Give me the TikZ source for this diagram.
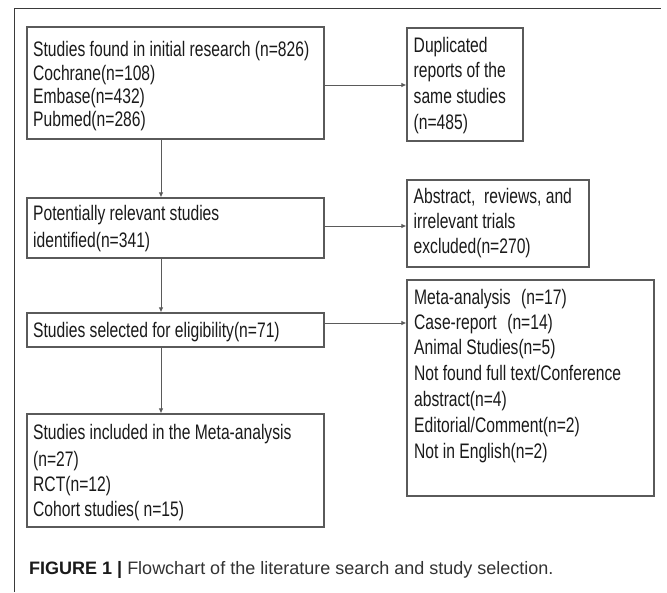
\documentclass[tikz,border=0pt]{standalone}
\usepackage{fontspec}
\newfontfamily\boxfont{Liberation Sans}[FakeStretch=0.745]
\newfontfamily\capfont{Liberation Sans}
\usetikzlibrary{arrows.meta}
\definecolor{boxline}{HTML}{5A5A5A}
\definecolor{txt}{HTML}{1A1A1A}
\definecolor{frameline}{HTML}{3A3A3A}
\definecolor{capgray}{HTML}{333333}
\begin{document}
\begin{tikzpicture}[x=1pt,y=-1pt,
  flowbox/.style={draw=boxline, line width=1.1pt, inner sep=0pt},
  ln/.style={anchor=base west, inner sep=0pt, text=txt, font=\boxfont\fontsize{21}{25}\selectfont},
  flowarrow/.style={draw=boxline, line width=1pt, -{Latex[length=5pt,width=4.5pt]}}
]
\useasboundingbox (0,0) rectangle (667,592);
\fill[white] (0,0) rectangle (667,592);
% frame
\draw[frameline, line width=1pt] (14,592) -- (14,8.3) -- (661,8.3);
% boxes
\node[flowbox, minimum width=297pt, minimum height=112pt] (b1) at (175.5,83) {};
\node[flowbox, minimum width=116pt, minimum height=113pt] (dup) at (465,84.5) {};
\node[flowbox, minimum width=297pt, minimum height=60pt] (b2) at (175.5,228) {};
\node[flowbox, minimum width=182pt, minimum height=87pt] (abs) at (498,223.5) {};
\node[flowbox, minimum width=297pt, minimum height=34pt] (b3) at (175.5,330) {};
\node[flowbox, minimum width=247pt, minimum height=216pt] (excl) at (530.5,388) {};
\node[flowbox, minimum width=297pt, minimum height=113pt] (b4) at (175.5,470.5) {};
% texts
\node[ln] (t1a) at (33,56) {Studies found in initial research (n=826)};
\node[ln] (t1b) at (33,80) {Cochrane(n=108)};
\node[ln] (t1c) at (33,103) {Embase(n=432)};
\node[ln] (t1d) at (33,126) {Pubmed(n=286)};
\node[ln] (tda) at (413.5,52) {Duplicated};
\node[ln] (tdb) at (413.5,77) {reports of the};
\node[ln] (tdc) at (413.5,103) {same studies};
\node[ln] (tdd) at (413.5,129) {(n=485)};
\node[ln] (t2a) at (33,220) {Potentially relevant studies};
\node[ln] (t2b) at (33,247) {identified(n=341)};
\node[ln] (taa) at (413.5,203) {Abstract,\ \ reviews, and};
\node[ln] (tab) at (413.5,228) {irrelevant trials};
\node[ln] (tac) at (413.5,253) {excluded(n=270)};
\node[ln] (t3a) at (33,337) {Studies selected for eligibility(n=71)};
\node[ln] (tea) at (414,304) {Meta-analysis\hspace{0.5em}(n=17)};
\node[ln] (teb) at (414,329) {Case-report\hspace{0.5em}(n=14)};
\node[ln] (tec) at (414,354) {Animal Studies(n=5)};
\node[ln] (ted) at (414,380) {Not found full text/Conference};
\node[ln] (tee) at (414,406) {abstract(n=4)};
\node[ln] (tef) at (414,432) {Editorial/Comment(n=2)};
\node[ln] (teg) at (414,458) {Not in English(n=2)};
\node[ln] (t4a) at (33,439) {Studies included in the Meta-analysis};
\node[ln] (t4b) at (33,466) {(n=27)};
\node[ln] (t4c) at (33,491) {RCT(n=12)};
\node[ln] (t4d) at (33,516) {Cohort studies( n=15)};
% caption
\node[anchor=base west, inner sep=0pt, text=txt, font=\capfont\fontsize{18}{22}\selectfont] (cap) at (29,574)
  {\textbf{FIGURE 1 |} \textcolor{capgray}{Flowchart of the literature search and study selection.}};
% connectors
\coordinate (ax) at (161,0);
\coordinate (y1) at (0,85);
\coordinate (y2) at (0,226);
\coordinate (y3) at (0,323);
\draw[flowarrow] (b1.south -| ax) -- (b2.north -| ax);
\draw[flowarrow] (b2.south -| ax) -- (b3.north -| ax);
\draw[flowarrow] (b3.south -| ax) -- (b4.north -| ax);
\draw[flowarrow] (b1.east |- y1) -- (dup.west |- y1);
\draw[flowarrow] (b2.east |- y2) -- (abs.west |- y2);
\draw[flowarrow] (b3.east |- y3) -- (excl.west |- y3);
\end{tikzpicture}
\end{document}
